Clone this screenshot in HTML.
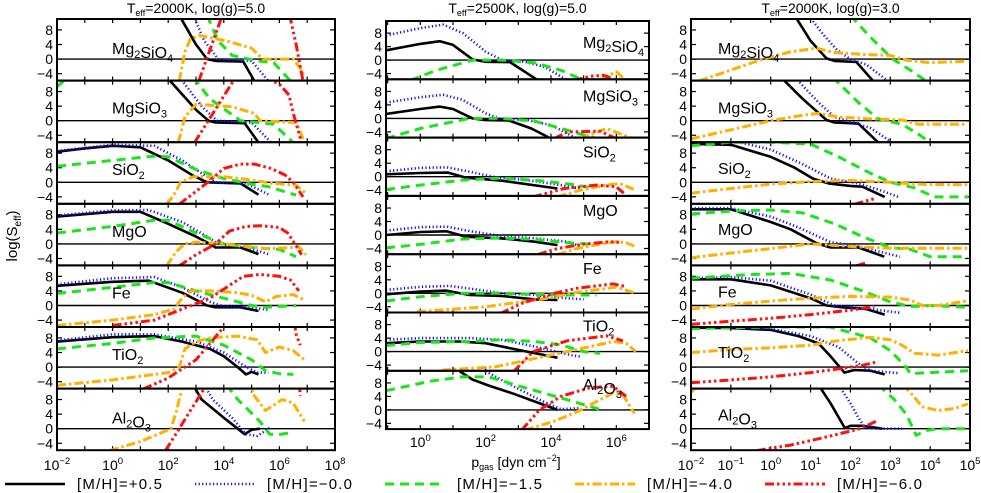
<!DOCTYPE html>
<html><head><meta charset="utf-8"><style>
html,body{margin:0;padding:0;background:#fff;}
svg{display:block;font-family:"Liberation Sans",sans-serif;}
</style></head><body>
<svg id="chart" width="981" height="493" viewBox="0 0 981 493" xmlns="http://www.w3.org/2000/svg">
<text transform="translate(17,236) rotate(-90)" text-anchor="middle" font-size="15">log(S<tspan font-size="10" dy="4">eff</tspan><tspan dy="-4">)</tspan></text>
<text x="516" y="467" text-anchor="middle" font-size="14">p<tspan font-size="9" dy="3">gas</tspan><tspan dy="-3"> [dyn cm</tspan><tspan font-size="9" dy="-6">−2</tspan><tspan dy="6">]</tspan></text>
<g id="legend"></g>
</svg>
<script>
const species = ["Mg2SiO4","MgSiO3","SiO2","MgO","Fe","TiO2","Al2O3"];
const seriesLabels = ["[M/H]=+0.5","[M/H]=−0.0","[M/H]=−1.5","[M/H]=−4.0","[M/H]=−6.0"];
const panelTitles = ["2000K, log(g)=5.0","2500K, log(g)=5.0","2000K, log(g)=3.0"];
const yTicks = [8,4,0,-4];
const leftXTicks = [-2,0,2,4,6,8];
const midXTicks = [0,2,4,6];
const rightXTicks = [-2,-1,0,1,2,3,4,5];

const L_black = [
 [[2.4,12],[3.0,4],[3.4,0],[3.7,-0.5],[4.7,-0.7],[5.1,-6]],
 [[1.95,12],[2.06,11],[3.0,3],[3.45,0],[3.7,-0.5],[4.75,-0.7],[5.25,-6]],
 [[-2,8.4],[-1,9.3],[0,10],[1,9.6],[2,6],[2.9,1.8],[3.4,0],[4.6,-0.3],[5.25,-3.4]],
 [[-2,7.5],[0,8.8],[1,8.8],[2,5.5],[3,2],[3.5,0],[3.7,-1],[4.6,-1],[5.25,-2.8]],
 [[-2,5.4],[0,6.5],[1.3,6.8],[2.5,3.5],[3.4,0],[3.7,-0.5],[4.6,-0.5],[5.25,-1.5]],
 [[-2,7],[0,8.2],[1.5,8.5],[2.5,7],[3.5,5],[4,3],[4.5,0],[4.8,-2],[5,-1.3],[5.25,-2]],
 [[2.9,12],[3.2,8],[4,3],[4.5,0],[4.75,-1.5],[5,-0.3],[5.3,0]]];
const L_blue = [
 [[2.9,12],[3.3,5],[3.8,0],[5.0,-0.5],[5.6,-6]],
 [[2.4,12],[3.2,4],[3.75,0],[5.0,-0.5],[5.7,-6]],
 [[-2,8.6],[0,10.3],[1.5,10],[2.5,6],[3.3,2],[3.7,0],[4.8,-0.3],[5.6,-3.3]],
 [[-2,7.8],[0,9.2],[1.3,9.3],[2.5,6],[3.4,2],[3.8,0],[4.8,-1],[5.6,-2.8]],
 [[-2,5.8],[0,7.5],[1.5,7.8],[2.5,5],[3.5,1],[4,-0.3],[5,-0.5],[5.6,-1.2]],
 [[-2,7.3],[0,9],[1.5,9],[3,7],[4,4],[4.7,0.5],[5.2,-1.5],[5.6,-1.5]],
 [[3.3,12],[3.6,8],[4.3,3],[4.8,-1.5],[5.2,-2],[5.65,0.2]]];
const L_green = [
 [[3.4,12],[3.8,5],[4.3,1],[5.2,-0.5],[5.8,-1],[6.4,-6]],
 [[-2,9.3],[-1.6,12],null,[2.9,12],[3.5,6],[4.6,0],[5.8,-1],[6.5,-6]],
 [[-2,4.4],[0,6],[1.5,7.2],[2,7],[3,3.5],[4,1],[5,-0.5],[5.6,-1.2],[6.6,-3.5]],
 [[-2,3],[0,4.8],[1.5,6.5],[2,6.5],[3,3],[4,0],[5,-1],[6,-1.5],[6.6,-3.5]],
 [[-2,3.3],[0,5],[1.5,6.3],[2,6.3],[3,4],[4,2],[5,0],[5.5,-0.5],[6.6,0]],
 [[-2,5],[0,6.5],[1.5,8],[3,8.5],[4,6],[5,2],[5.5,-1],[6,-1.8],[6.5,-2]],
 [[4.1,12],[4.5,8],[5.3,2],[5.65,-1.5],[6.0,-1.6],[6.5,-1]]];
const L_orange = [
 [[2.4,-6],[2.6,2],[2.8,5.5],[3.1,6.5],[4.1,5],[5.0,3],[5.4,0],[6.5,0],[6.8,-3],[6.9,-5]],
 [[2.36,-6],[2.6,1],[3.0,4.5],[4.3,3.8],[5.1,2],[5.3,0],[6.6,-0.5],[6.85,-5]],
 [[1.95,-6],[2.2,-3.5],[2.45,0],[2.9,1.5],[4,1.5],[4.6,1],[5.8,-0.3],[6.6,-0.8],[6.95,-3]],
 [[1.95,-6],[2.3,-2],[2.6,0],[3,0.5],[4,0],[5.5,-1.3],[6.5,-1],[6.7,-0.8],[6.95,-3]],
 [[-2,-5.5],[0,-4],[1.5,-2.5],[2.2,-1],[2.5,2],[2.8,4],[3.5,4],[4.5,3.5],[5,2.8],[5.5,1],[5.9,2.5],[6.5,3],[6.9,1.5]],
 [[-2,-5],[0,-3.5],[2,-1.5],[2.4,0],[2.6,5],[3,7],[3.5,8],[4.5,8.5],[5.2,7.5],[5.5,4],[6,5.5],[6.5,4.5],[6.9,2]],
 [[-0.1,-6],[1,-3.5],[2.1,0],[2.3,5],[2.5,11],[2.6,14],null,[4.9,14],[5.1,9],[5.5,5],[6.1,8],[6.5,7],[6.9,2]]];
const L_red = [
 [[3.1,-6],[3.9,11],[4.2,20],null,[6.3,20],[6.4,11],[6.6,4],[6.85,-6]],
 [[2.95,-6],[4.35,11],[4.6,16],null,[5.4,14],[5.6,11.5],[6.0,10],[6.35,7],[6.5,2],[6.8,-6]],
 [[2.4,-6],[3,-2.5],[3.5,0.5],[4,3.8],[4.6,5],[5.1,5],[5.7,3.8],[6.2,2],[6.5,0],[6.85,-4]],
 [[2.4,-6],[3,-3],[3.7,0],[4.2,3.5],[4.8,4.8],[5.3,5],[6,4.5],[6.3,3],[6.6,-0.5],[6.8,-3]],
 [[0,-5.5],[1.5,-4],[2.5,-1],[3.5,2],[4.2,5.5],[4.7,8],[5.3,8.5],[6,8],[6.4,7],[6.7,4]],
 [[1.1,-6],[2,-3],[3,2],[4,11],[4.2,14],null,[6.5,14],[6.6,9],[6.75,6]],
 [[1.9,-6],[2.4,0],[2.8,5],[3.3,11],[3.5,14],null,[6.7,14],[6.75,9]]];

const M_black = [
 [[-1.05,2.9],[0,4.8],[0.6,5.6],[1.0,4.5],[1.6,0.2],[2,-0.5],[2.75,-0.6],[3.6,-6]],
 [[-1.05,1.3],[0,2.8],[0.6,3.5],[1.0,2.8],[1.6,0],[2,-0.5],[2.7,-0.6],[3.4,-3],[4.0,-6]],
 [[-1.05,0.7],[0,1.1],[0.85,1.2],[1.4,-0.3],[2.5,-1.2],[4.2,-3.5]],
 [[-1.05,0],[0,0.9],[0.8,1.1],[1.4,-0.5],[2.5,-1],[3.5,-2],[4.2,-3]],
 [[-1.05,-0.3],[0,0.5],[0.8,0.8],[1.5,-0.5],[2.5,-0.8],[3.5,-1.8],[4.2,-2]],
 [[-1.05,2.5],[0,3],[1.2,3],[2,2.5],[3,0.5],[4.2,-1.8]],
 [[1.2,11.5],[1.6,9],[2.1,7.2],[2.85,4.8],[3.5,2.5],[4.2,0]]];
const M_blue = [
 [[-1.05,7.3],[0,9.5],[0.7,10.5],[1.3,8],[2,2.5],[2.5,0],[3.2,-0.5],[3.8,-2],[4.5,-6]],
 [[-1.05,4.7],[0,6.3],[0.7,7],[1.3,5.5],[2,1.5],[2.4,0],[3.3,-0.5],[4,-2],[4.8,-6]],
 [[-1.05,1.6],[0,2.6],[0.8,2.8],[1.5,1.5],[2.2,0],[3.5,-1.3],[4.3,-2.5],[4.9,-3.5]],
 [[-1.05,1.3],[0,2.3],[0.8,2.5],[1.6,1],[2.5,-0.3],[3.5,-1],[4.5,-2],[4.9,-3.3]],
 [[-1.05,1],[0,1.9],[0.9,2.2],[1.8,1],[2.5,0],[3.5,-0.5],[4.5,-1.5],[5,-1.8]],
 [[-1.05,3.5],[0,4],[1.5,4],[2.5,3.5],[3.5,1.5],[4.6,-1],[4.9,-1.5]],
 [[2.0,11.5],[2.65,8],[3.65,3],[4.3,0.2],[4.85,0.5]]];
const M_green = [
 [[-0.3,-6],[0.5,-3],[1.6,0],[2.5,0],[3.5,-0.8],[4.3,-3],[5,-6]],
 [[-1.05,-6],[0,-3],[1.5,0],[2.5,0],[3.5,-0.8],[4.5,-3.5],[5.4,-6]],
 [[-1.05,-3.8],[0,-2.5],[1.3,-1],[2.5,-0.4],[3.8,-1.3],[4.8,-2.5],[5.3,-3.5]],
 [[-1.05,-3.8],[0,-2.8],[1.3,-1.2],[2.5,-0.9],[3.5,-1.3],[4.5,-2.3],[5.3,-2.8]],
 [[-1.05,-2.3],[0,-1],[1.3,0],[2.5,0],[3.5,-0.3],[4.5,-0.5],[5.4,-0.5]],
 [[-1.05,1.8],[0,2.7],[1.5,3],[2.5,3.5],[3.5,3],[4.3,2],[5,0],[5.5,-0.5]],
 [[-1.05,5.7],[0.3,8.5],[1.27,9.8],[2.1,9.8],[3.05,7],[4.5,3],[5.55,0]]];
const M_orange = [
 [[5.5,-5.8],[6.0,-3.5],[6.3,-6]],
 [[4.9,-6],[5.7,-3],[6.5,-6]],
 [[4.2,-6],[4.9,-4],[5.7,-2.5],[6.1,-2],[6.6,-4]],
 [[4.2,-5.8],[4.8,-4],[5.5,-2.7],[6,-2],[6.3,-2.3],[6.6,-3.5]],
 [[-0.1,-5.5],[2,-4],[3.9,-1.5],[4.6,0],[6.0,1.8],[6.6,0]],
 [[0.66,-5.5],[2.3,-4.5],[4.5,0],[5.9,3],[6.3,2.5],[6.6,0]],
 [[3.2,-6],[4.05,-3.5],[4.7,-1],[5.3,2],[5.9,5],[6.2,4.5],[6.55,-1]]];
const M_red = [
 [[4.7,-6],[5.2,-4.8],[5.6,-4.5],[5.9,-5.5]],
 [[4.1,-6],[4.5,-4],[5.5,-3.8],[6.0,-6]],
 [[3.45,-6],[4.4,-3.5],[5.4,-2.5],[6.0,-3],[6.3,-5.5]],
 [[3.6,-5.8],[4.2,-4],[5,-2.7],[5.8,-2],[6.1,-2.2]],
 [[2.45,-6],[3.1,-3],[3.6,-1.5],[4.1,0],[4.8,1.5],[5.9,2.8],[6.3,2]],
 [[2.85,-6],[3.45,0],[4.5,3.2],[5.7,4.7],[6.2,3.2]],
 [[3.1,-6],[3.65,0],[4.3,4],[5.2,6.6],[5.9,7],[6.3,4]]];

const R_black = [
 [[0.6,12],[1.0,5],[1.4,0.2],[1.6,-0.5],[2.15,-0.8],[2.57,-6]],
 [[0.25,12],[0.8,6],[1.4,0.2],[1.6,-0.5],[2.2,-0.8],[2.7,-6]],
 [[-2,10.5],[-1,10.3],[0,7],[0.6,4],[1.06,1],[1.45,-0.3],[2.0,-1],[2.3,-1.2],[2.86,-4]],
 [[-2,9.5],[-1,9.5],[0,6],[0.5,4],[1.15,0.2],[1.5,-1],[2.2,-1],[2.85,-3.5]],
 [[-2,7.2],[-1,7.2],[0,5.5],[1,2],[1.4,0],[1.8,-0.5],[2.4,-1],[2.86,-2.5]],
 [[-2,10.8],[-1,10.7],[0,10.2],[0.7,8.5],[1.2,6.5],[1.5,3],[1.73,0],[1.85,-1.5],[2.1,-0.8],[2.5,-1],[2.86,-2]],
 [[1.2,12],[1.5,7],[1.86,0.2],[2.0,0.8],[2.3,0.8],[2.8,0]]];
const R_blue = [
 [[0.95,12],[1.3,7],[1.66,2.5],[2.0,0],[2.4,-1.5],[2.94,-6]],
 [[0.6,12],[1.2,5],[1.6,1],[2.0,-0.3],[2.5,-2],[3.05,-6]],
 [[-2,11],[-0.8,11],[0,9],[0.8,5],[1.5,1],[2.2,-0.3],[2.7,-2],[3.2,-4]],
 [[-2,9.8],[-1,9.8],[0,7.5],[0.7,4.5],[1.5,0.5],[2.2,-0.7],[3.24,-3.5]],
 [[-2,7.5],[-1,7.8],[0,6.8],[1,3],[1.6,0],[2.5,-1],[3.24,-2]],
 [[-2,11],[0,10.5],[1,8.5],[1.7,5.5],[2.2,1],[2.5,-1],[3.24,-1.7]],
 [[1.7,12],[2.0,7],[2.2,3],[2.35,0.5],[2.7,0],[3.3,0]]];
const R_green = [
 [[2.0,12],[2.5,6],[3.06,0],[3.5,-3],[3.9,-6]],
 [[1.55,12],[2.2,5],[2.7,0.5],[3.3,-1],[3.75,-4],[4.0,-6]],
 [[-2,10],[-1,11],[0,11],[1,10.5],[1.7,7],[2.5,2.5],[3,0],[3.6,-1.5],[4.1,-4],[4.95,-4]],
 [[-2,8.2],[-1,9],[0,9.3],[0.8,8.5],[1.6,5.5],[2.3,2],[3.0,-1],[3.5,-1.5],[4.0,-3.5],[4.95,-3.5]],
 [[-2,7.5],[-0.5,8.5],[0.5,8.8],[1.5,7],[2.3,4],[3.0,1],[3.5,-0.3],[4,0],[4.95,-0.5]],
 [[-2,10.5],[-1,10.8],[0,11],[1.5,11],[2.5,8],[3,4.5],[3.4,0],[3.5,-1.8],[4,-1.5],[4.95,-1]],
 [[2.7,12],[3.1,8],[3.4,4],[3.65,-1.8],[3.9,-0.5],[4.2,0],[4.95,0]]];
const R_orange = [
 [[-1.8,-6],[-1,-3],[-0.2,0],[0.5,2],[1.15,3],[1.6,1.8],[2.3,1.3],[3,1],[3.4,-0.3],[4,-1],[4.9,-0.6]],
 [[-2,-5],[-1,-2.5],[0,0],[0.8,1.5],[1.2,2],[1.7,1],[2.5,0.5],[3.3,0.2],[3.7,-1],[4.9,-1]],
 [[-2,-3],[-1,-1.7],[0,-0.5],[1,0.2],[2,0.5],[3,0],[3.6,-0.5],[4.95,-0.7]],
 [[-2,-3.8],[-1,-2.5],[0,-1.3],[1,0],[2,-0.7],[3,-1.2],[4,-1.2],[4.95,-1.2]],
 [[-2,-1],[-1,0.3],[0,1.2],[1,2],[2,2.5],[3,2.3],[3.5,1.5],[3.8,0],[4.2,0],[4.95,1.3]],
 [[-2,4],[-1,4.8],[0,5.3],[1,6],[1.5,7],[2.5,8.2],[3.0,7.5],[3.3,6],[3.6,3.8],[4.2,3.3],[4.95,4.5]],
 [[-2,10],[-1.8,12],null,[3.3,12],[3.5,10],[3.8,6],[4.2,5],[4.6,5.5],[4.95,6.8]]];
const R_red = [
 [],
 [],
 [[2.1,-6],[2.6,-4.5]],
 [[2.15,-6],[2.4,-5.2]],
 [[-2,-5.2],[-1,-4.3],[0,-3.5],[1,-2.5],[2,-1.3],[2.6,-0.3]],
 [[-2,-4.3],[-1,-3.5],[0,-2.7],[1,-1.5],[1.7,-0.5],[2.3,0.5],[2.7,1.5]],
 [[-0.35,-6],[0.5,-4.5],[1.5,-2],[2.24,0],[2.7,2.3]]];

const styles = [
 {c:"#000000", w:2.6, d:""},
 {c:"#1010ff", w:2.6, d:"1.2 2.4"},
 {c:"#19e619", w:3, d:"9 6"},
 {c:"#ffb000", w:3, d:"9 3 2.5 3"},
 {c:"#ff1010", w:3, d:"9 3 2.5 3 2.5 3 2.5 3"}];
const NS = "http://www.w3.org/2000/svg";
const svg = document.getElementById("chart");
const defs = document.createElementNS(NS,"defs");
svg.appendChild(defs);

function mk(tag, attrs, parent){
  const e = document.createElementNS(NS, tag);
  for (const k in attrs) e.setAttribute(k, attrs[k]);
  (parent||svg).appendChild(e);
  return e;
}
function powLabel(parent, x, y, exp, size){
  const t = mk("text", {x:x, y:y, "text-anchor":"middle", "font-size":size}, parent);
  
  
  const s = String(exp).replace("-", "−");
  t.innerHTML = '10<tspan font-size="' + (size*0.68) + '" dy="-6">' + s + '</tspan>';
}

const panels = [
 {key:"left", x0:57, x1:335, lmin:-2, lmax:8, top:19, rh:61.6, ymin:-5.9, ymax:11.0, labelX:112, labelDy:[29,27,27,27,27,27,29],
  data:[L_black,L_blue,L_green,L_orange,L_red], xt:leftXTicks, xtY:470, title:panelTitles[0]},
 {key:"middle", x0:386, x1:649, lmin:-1.05, lmax:7.0, top:21, rh:58.3, ymin:-5.7, ymax:11.6, labelX:583, labelDy:[21,16,14,14,14,13,13],
  data:[M_black,M_blue,M_green,M_orange,M_red], xt:midXTicks, xtY:447, title:panelTitles[1]},
 {key:"right", x0:691, x1:970, lmin:-2, lmax:5, top:19, rh:61.6, ymin:-5.9, ymax:11.0, labelX:718, labelDy:[29,27,26,25,26,25,26],
  data:[R_black,R_blue,R_green,R_orange,R_red], xt:rightXTicks, xtY:470, title:panelTitles[2]}];

panels.forEach((p, pi) => {
  const g = mk("g", {});
  
  
  const xs = v => p.x0 + (v - p.lmin) / (p.lmax - p.lmin) * (p.x1 - p.x0);
  const cx = (p.x0 + p.x1) / 2;
  const tt = mk("text", {x:cx, y:13, "text-anchor":"middle", "font-size":14}, g);
  
  
  tt.innerHTML = 'T<tspan font-size="9" dy="3">eff</tspan><tspan dy="-3">=' + p.title + '</tspan>';
  species.forEach((sp, ri) => {
    const rt = p.top + ri * p.rh, rb = rt + p.rh;
    const ys = v => rb - (v - p.ymin) / (p.ymax - p.ymin) * p.rh;
    const cid = "clip-" + pi + "-" + ri;
    const cp = mk("clipPath", {id:cid}, defs);
    mk("rect", {x:p.x0, y:rt, width:p.x1 - p.x0, height:p.rh}, cp);
    const rg = mk("g", {}, g);
    
    
    const zl = mk("line", {x1:p.x0, x2:p.x1, y1:ys(0), y2:ys(0), stroke:"#000", "stroke-width":1.4}, rg);
    
    
    yTicks.forEach(v => {
      const y = ys(v);
      mk("line", {x1:p.x0, x2:p.x0 + 5, y1:y, y2:y, stroke:"#000", "stroke-width":1.2}, rg);
      mk("line", {x1:p.x1, x2:p.x1 - 5, y1:y, y2:y, stroke:"#000", "stroke-width":1.2}, rg);
      const tl = mk("text", {x:p.x0 - 4, y:y + 5, "text-anchor":"end", "font-size":14}, rg);
      
      
      tl.textContent = String(v).replace("-", "−");
    });
    for (let d = Math.ceil(p.lmin); d <= Math.floor(p.lmax); d++) {
      const x = xs(d);
      mk("line", {x1:x, x2:x, y1:rb, y2:rb - 4, stroke:"#000", "stroke-width":1.2}, rg);
      mk("line", {x1:x, x2:x, y1:rt, y2:rt + 4, stroke:"#000", "stroke-width":1.2}, rg);
    }
    const sg = mk("g", {"clip-path":"url(#" + cid + ")"}, rg);
    p.data.forEach((arr, si) => {
      const pts = arr[ri];
      if (!pts || !pts.length) return;
      let d = "", pen = false;
      pts.forEach(pt => {
        if (pt === null) { pen = false; return; }
        d += (pen ? "L" : "M") + xs(pt[0]).toFixed(1) + "," + ys(pt[1]).toFixed(1);
        pen = true;
      });
      const st = styles[si];
      const path = mk("path", {d:d, fill:"none", stroke:st.c, "stroke-width":st.w, "stroke-dasharray":st.d, "stroke-linejoin":"round"}, sg);
      
      
    });
    mk("rect", {x:p.x0, y:rt, width:p.x1 - p.x0, height:p.rh, fill:"none", stroke:"#000", "stroke-width":2}, rg);
    const lab = mk("text", {x:p.labelX, y:rt + p.labelDy[ri] + 6, "font-size":16}, rg);
    
    
    lab.innerHTML = sp.replace(/(\d)/g, '<tspan font-size="11" dy="4">$1</tspan><tspan dy="-4"></tspan>');
  });
  p.xt.forEach(v => powLabel(g, xs(v), p.xtY, v, 14));
});

const lg = document.getElementById("legend");
seriesLabels.forEach((lbl, i) => {
  const x = 5 + i * 190, st = styles[i];
  const item = mk("g", {}, lg);
  
  
  mk("line", {x1:x, x2:x + 60, y1:484, y2:484, stroke:st.c, "stroke-width":st.w, "stroke-dasharray":st.d}, item);
  const t = mk("text", {x:x + 72, y:489, "font-size":15, "letter-spacing":"1.2"}, item);
  t.textContent = lbl;
});
</script>
</body></html>
